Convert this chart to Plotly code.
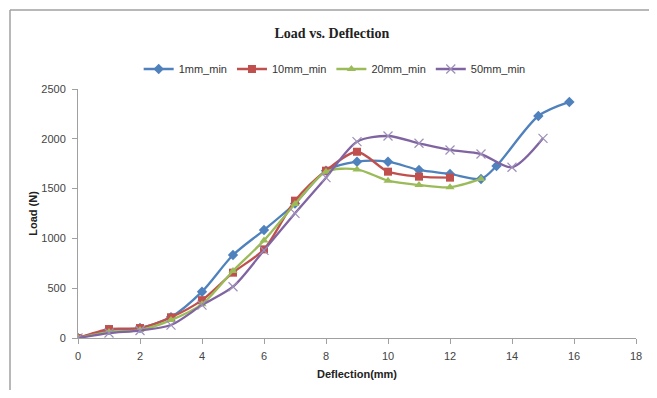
import plotly.graph_objects as go

# Data
x_1mm = [0, 1, 2, 3, 4, 5, 6, 7, 8, 9, 10, 11, 12, 13, 13.5, 14.85, 15.85]
y_1mm = [0, 80, 100, 210, 465, 833, 1084, 1350, 1680, 1770, 1770, 1687, 1647, 1597, 1727, 2229, 2370]

x_10mm = [0, 1, 2, 3, 4, 5, 6, 7, 8, 9, 10, 11, 12]
y_10mm = [0, 90, 100, 208, 380, 656, 890, 1379, 1680, 1870, 1670, 1620, 1610]

x_20mm = [0, 1, 2, 3, 4, 5, 6, 7, 8, 9, 10, 11, 12, 13]
y_20mm = [0, 60, 80, 180, 340, 673, 980, 1345, 1670, 1693, 1580, 1536, 1513, 1597]

x_50mm = [0, 1, 2, 3, 4, 5, 6, 7, 8, 9, 10, 11, 12, 13, 14, 15]
y_50mm = [0, 50, 75, 130, 330, 515, 880, 1252, 1610, 1971, 2028, 1955, 1888, 1847, 1714, 2005]

series_names = ["1mm_min", "10mm_min", "20mm_min", "50mm_min"]
colors = ["#4F81BD", "#C0504D", "#9BBB59", "#8064A2"]
symbols = ["diamond", "square", "triangle-up", "x-thin"]

x_ticks = [0, 2, 4, 6, 8, 10, 12, 14, 16, 18]
y_ticks = [0, 500, 1000, 1500, 2000, 2500]

fig = go.Figure()
for name, xs, ys, c, s in zip(series_names,
                              [x_1mm, x_10mm, x_20mm, x_50mm],
                              [y_1mm, y_10mm, y_20mm, y_50mm],
                              colors, symbols):
    marker = dict(symbol=s, size=8, color=c)
    if s == "x-thin":
        marker = dict(symbol=s, size=9, color=c, line=dict(width=1.2, color="#9E8FB8"))
    fig.add_trace(go.Scatter(
        x=xs, y=ys, name=name, mode="lines+markers",
        line=dict(color=c, width=2.3, shape="spline", smoothing=0.8),
        marker=marker,
    ))

sans = "Liberation Sans Narrow, Liberation Sans, Arial"
axis_font = dict(family=sans, size=11, color="#444444")

# page body adds an 8px offset; size the figure so it fits the window
W, H = 649, 382
L, T = 70, 81
pw, ph = 558, 249
R = W - L - pw
B = H - T - ph

bx0 = (2 - L) / pw
by1 = 1 + (T - 2) / ph
border = dict(color="#A0A0A0", width=1.5)

fig.update_layout(
    width=W, height=H,
    paper_bgcolor="white", plot_bgcolor="white",
    margin=dict(l=L, r=R, t=T, b=B),
    title=dict(text="<b>Load vs. Deflection</b>", x=0.455, xref="paper", xanchor="center",
               y=1 - 25 / H, yanchor="middle",
               font=dict(family="Liberation Serif, Times New Roman", size=14, color="#222222")),
    legend=dict(orientation="h", x=0.46, xanchor="center", y=1 + 20 / ph, yanchor="middle",
                font=dict(family=sans, size=11, color="#333333"),
                bgcolor="rgba(0,0,0,0)"),
    xaxis=dict(range=[0, 18], tickvals=x_ticks, ticks="outside", ticklen=5, tickcolor="#A0A0A0",
               showline=True, linecolor="#A0A0A0", linewidth=1, showgrid=False, zeroline=False,
               tickfont=axis_font, ticklabelstandoff=3,
               title=dict(text="<b>Deflection(mm)</b>", standoff=9,
                          font=dict(family=sans, size=11, color="#222222"))),
    yaxis=dict(range=[0, 2500], tickvals=y_ticks, ticks="outside", ticklen=5, tickcolor="#A0A0A0",
               showline=True, linecolor="#A0A0A0", linewidth=1, showgrid=False, zeroline=False,
               tickfont=axis_font, ticklabelstandoff=4,
               title=dict(text="<b>Load (N)</b>", standoff=1,
                          font=dict(family=sans, size=11, color="#222222"))),
    shapes=[
        dict(type="line", xref="paper", yref="paper",
             x0=bx0, x1=(W + 20 - L) / pw, y0=by1, y1=by1, line=border, layer="below"),
        dict(type="line", xref="paper", yref="paper",
             x0=bx0, x1=bx0, y0=-(B + 20) / ph, y1=by1, line=border, layer="below"),
    ],
)

fig.write_html("out.html")
